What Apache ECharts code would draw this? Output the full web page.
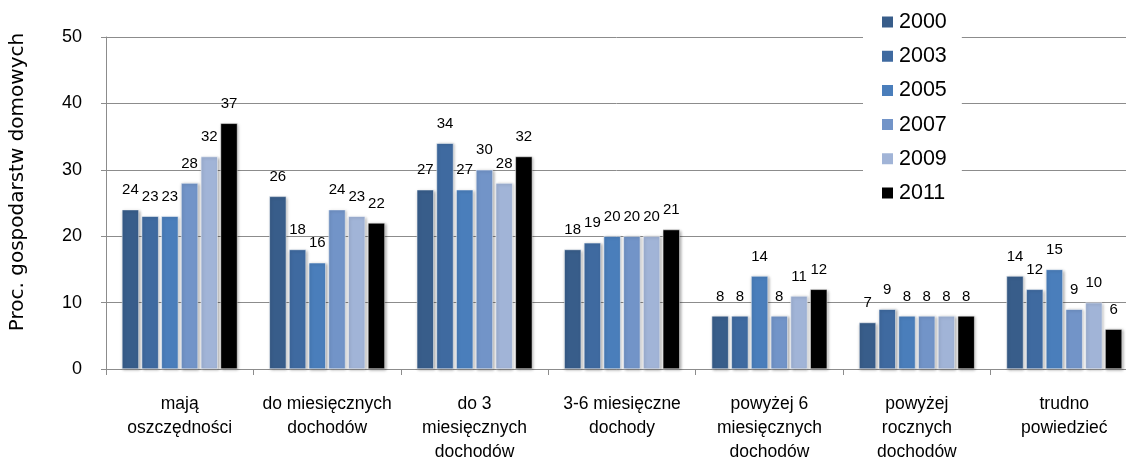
<!DOCTYPE html>
<html>
<head>
<meta charset="utf-8">
<script src="https://cdn.jsdelivr.net/npm/echarts@6/dist/echarts.min.js"></script>
<style>html,body{margin:0;padding:0;background:#fff;}#c{width:1126px;height:461px;}</style>
</head>
<body>
<div id="c"></div>
<script>
const categories = ["mają\noszczędności", "do miesięcznych\ndochodów", "do 3\nmiesięcznych\ndochodów", "3-6 miesięczne\ndochody", "powyżej 6\nmiesięcznych\ndochodów", "powyżej\nrocznych\ndochodów", "trudno\npowiedzieć"];
const years = ["2000", "2003", "2005", "2007", "2009", "2011"];
const v2000 = [24, 26, 27, 18, 8, 7, 14];
const v2003 = [23, 18, 34, 19, 8, 9, 12];
const v2005 = [23, 16, 27, 20, 14, 8, 15];
const v2007 = [28, 24, 30, 20, 8, 8, 9];
const v2009 = [32, 23, 28, 20, 11, 8, 10];
const v2011 = [37, 22, 32, 21, 12, 8, 6];
const yTicks = [0, 10, 20, 30, 40, 50];
const yName = "Proc. gospodarstw domowych";

const seriesValues = [v2000, v2003, v2005, v2007, v2009, v2011];
const colors = ["#385D8A", "#3F6AA0", "#4A7EBB", "#7294C8", "#A1B4D7", "#000000"];
const font = "Liberation Sans, Arial, sans-serif";

const chart = echarts.init(document.getElementById('c'));
chart.setOption({
  animation: false,
  textStyle: { fontFamily: font },
  grid: { left: 106, right: -12, top: 37, bottom: 92, containLabel: false, outerBoundsMode: 'none' },
  legend: {
    orient: 'vertical',
    left: 863, top: 1,
    padding: [10, 15, 10, 17],
    backgroundColor: '#ffffff',
    itemWidth: 13, itemHeight: 13,
    itemGap: 12.2,
    icon: 'rect',
    textStyle: { fontSize: 21.5, color: '#000', lineHeight: 20, fontFamily: font },
    data: years
  },
  xAxis: {
    type: 'category',
    data: categories,
    boundaryGap: true,
    axisLine: { lineStyle: { color: '#8c8c8c', width: 1 } },
    axisTick: { show: true, length: 6, lineStyle: { color: '#8c8c8c' } },
    axisLabel: { fontSize: 17.5, color: '#000', lineHeight: 24, margin: 23, interval: 0 }
  },
  yAxis: {
    type: 'value',
    min: yTicks[0], max: yTicks[yTicks.length - 1], interval: 10,
    name: yName,
    nameLocation: 'middle',
    nameGap: 78,
    nameRotate: 90,
    nameTextStyle: { fontSize: 20, color: '#000', fontFamily: 'DejaVu Sans, sans-serif', padding: [0, 0, 0, 42] },
    axisLine: { show: true, lineStyle: { color: '#8c8c8c' } },
    axisTick: { show: true, length: 5, lineStyle: { color: '#8c8c8c' } },
    axisLabel: { fontSize: 18, color: '#000', margin: 24 },
    splitLine: { lineStyle: { color: '#8c8c8c', width: 1 } }
  },
  series: years.map((y, i) => ({
    name: y,
    type: 'bar',
    data: seriesValues[i],
    barWidth: 17,
    barGap: '16%',
    itemStyle: {
      color: colors[i],
      borderColor: '#ffffff',
      borderWidth: 0.5,
      shadowColor: 'rgba(0,0,0,0.35)',
      shadowBlur: 3,
      shadowOffsetX: 1,
      shadowOffsetY: 1
    },
    label: { show: true, position: 'top', distance: 12, fontSize: 15, color: '#000' }
  }))
});
</script>
</body>
</html>
